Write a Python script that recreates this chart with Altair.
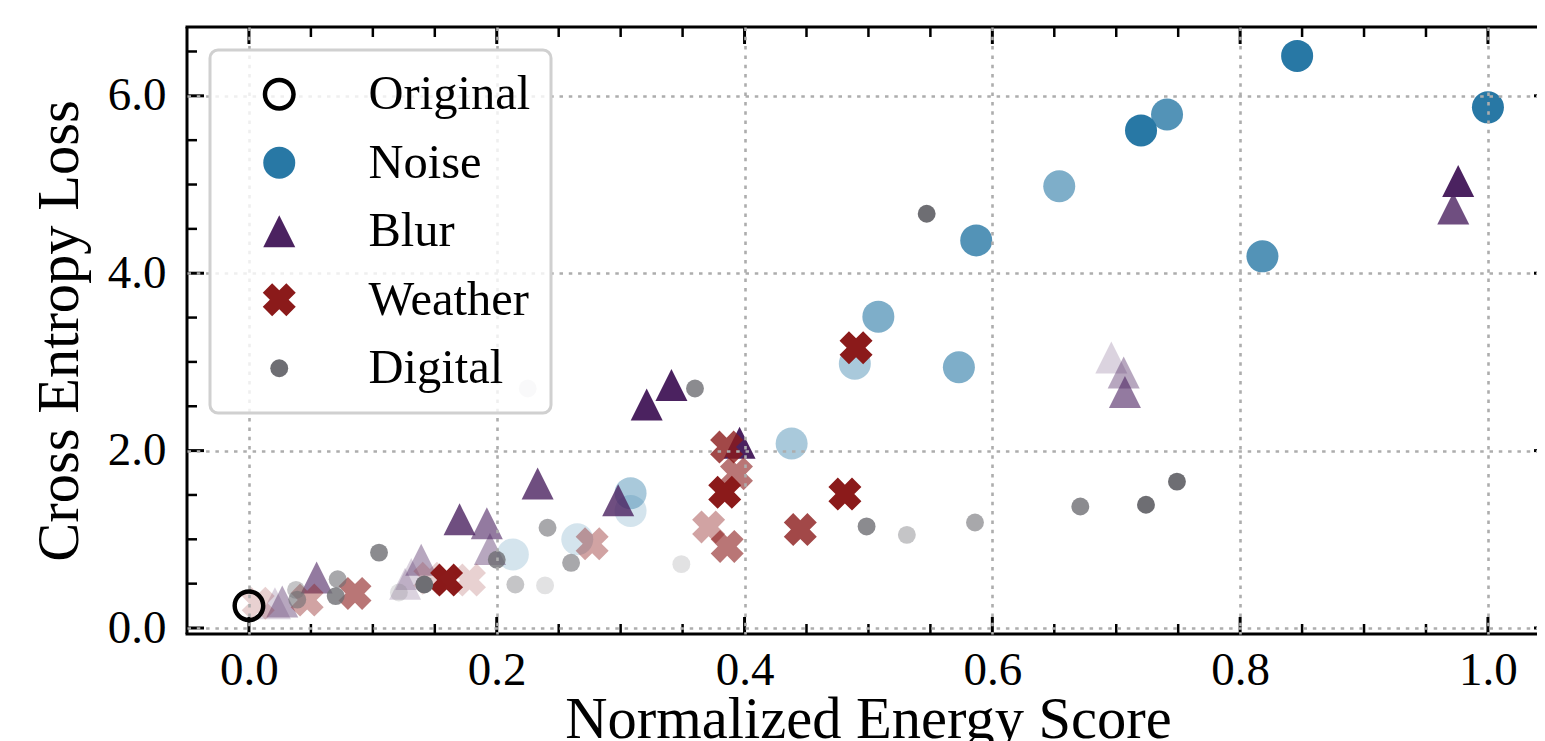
import altair as alt
import pandas as pd

# ---------------- data ----------------
groups = ["Original", "Noise", "Blur", "Weather", "Digital"]

original_x = [0.0]
original_y = [0.25]
original_sev = [5]

noise_x = [0.846, 1.000, 0.720, 0.741, 0.587, 0.818, 0.654, 0.508, 0.573, 0.489, 0.438, 0.308, 0.308, 0.265, 0.213]
noise_y = [6.45, 5.87, 5.61, 5.79, 4.37, 4.19, 4.98, 3.51, 2.94, 2.98, 2.08, 1.52, 1.32, 1.00, 0.83]
noise_sev = [5, 5, 5, 4, 4, 4, 3, 3, 3, 2, 2, 2, 1, 1, 1]

blur_x = [0.976, 0.972, 0.707, 0.706, 0.696, 0.341, 0.321, 0.396, 0.233, 0.298, 0.170, 0.192, 0.1945, 0.139, 0.131, 0.126, 0.0546, 0.0269, 0.021]
blur_y = [5.04, 4.73, 2.66, 2.88, 3.05, 2.74, 2.52, 2.09, 1.63, 1.44, 1.225, 1.18, 0.89, 0.77, 0.61, 0.50, 0.57, 0.30, 0.28]
blur_sev = [5, 4, 3, 2, 1, 5, 5, 5, 4, 4, 4, 3, 2, 2, 1, 1, 3, 2, 1]

weather_x = [0.490, 0.481, 0.384, 0.1595, 0.445, 0.3855, 0.3935, 0.386, 0.0856, 0.371, 0.277, 0.047, 0.178, 0.0075, 0.146]
weather_y = [3.16, 1.51, 1.53, 0.54, 1.11, 2.04, 1.74, 0.92, 0.39, 1.14, 0.95, 0.315, 0.54, 0.28, 0.56]
weather_sev = [5, 5, 5, 5, 4, 4, 3, 3, 3, 2, 2, 2, 1, 1, 1]

digital_x = [0.547, 0.749, 0.724, 0.671, 0.586, 0.4985, 0.531, 0.360, 0.225, 0.241, 0.260, 0.349, 0.215, 0.239, 0.105, 0.0716, 0.070, 0.038, 0.039, 0.1415, 0.121, 0.200]
digital_y = [4.67, 1.65, 1.39, 1.37, 1.19, 1.145, 1.05, 2.70, 2.70, 1.13, 0.735, 0.72, 0.49, 0.48, 0.85, 0.55, 0.36, 0.43, 0.32, 0.49, 0.40, 0.77]
digital_sev = [5, 5, 5, 4, 3, 4, 2, 4, 1, 3, 3, 1, 2, 1, 4, 3, 4, 2, 3, 5, 1, 4]

x_major = [0.0, 0.2, 0.4, 0.6, 0.8, 1.0]
x_minor = [0.05, 0.1, 0.15, 0.25, 0.3, 0.35, 0.45, 0.5, 0.55, 0.65, 0.7, 0.75, 0.85, 0.9, 0.95]
y_major = [0.0, 2.0, 4.0, 6.0]
y_minor = [0.5, 1.0, 1.5, 2.5, 3.0, 3.5, 4.5, 5.0, 5.5, 6.5]

# ---------------- table ----------------
rows = []
for g, xs_, ys_, ss_ in [
    ("Noise", noise_x, noise_y, noise_sev),
    ("Blur", blur_x, blur_y, blur_sev),
    ("Weather", weather_x, weather_y, weather_sev),
    ("Digital", digital_x, digital_y, digital_sev),
    ("Original", original_x, original_y, original_sev),
]:
    for a, b, c in zip(xs_, ys_, ss_):
        rows.append({"group": g, "x": a, "y": b, "sev": c})
df = pd.DataFrame(rows)
df["idx"] = range(len(df))

# ---------------- styling ----------------
W, H = 1350, 607
FONT = "Liberation Serif"

ring = ("M1,0A1,1,0,1,1,-1,0A1,1,0,1,1,1,0Z"
        "M0.73,0A0.73,0.73,0,1,0,-0.73,0A0.73,0.73,0,1,0,0.73,0Z")
tri = "M0,-1L1,1L-1,1Z"
xmark = ("M-0.43,-1L0,-0.57L0.43,-1L1,-0.43L0.57,0L1,0.43L0.43,1L0,0.57"
         "L-0.43,1L-1,0.43L-0.57,0L-1,-0.43Z")

colors = ["#000000", "#2878A5", "#4B2260", "#8B1A1A", "#6E6E73"]
shapes = [ring, "circle", tri, xmark, "circle"]
sizes = [1089, 1024, 1024, 1089, 320]

xscale = alt.Scale(domain=[-0.05, 1.0396], nice=False, zero=False)
yscale = alt.Scale(domain=[-0.0676, 6.776], nice=False, zero=False)

xaxis = alt.Axis(
    values=x_major, format=".1f", title="Normalized Energy Score",
    grid=True, ticks=False, tickSize=0, domain=False, zindex=1,
    labelPadding=13, labelFlush=False, labelOverlap=False,
    titleX=681, titleAlign="center", titleAnchor="start",
    titleY=103, titleBaseline="alphabetic")
yaxis = alt.Axis(
    values=y_major, format=".1f", title="Cross Entropy Loss",
    grid=True, ticks=False, tickSize=0, domain=False, zindex=1,
    labelPadding=21, labelFlush=False, labelOverlap=False,
    titleX=-110, titleBaseline="alphabetic")

leg = dict(title=None, orient="none", legendX=23, legendY=23, zindex=2)

points = alt.Chart(df).mark_point(filled=True, strokeWidth=0).encode(
    x=alt.X("x:Q", scale=xscale, axis=xaxis),
    y=alt.Y("y:Q", scale=yscale, axis=yaxis),
    color=alt.Color("group:N", scale=alt.Scale(domain=groups, range=colors), legend=alt.Legend(**leg)),
    shape=alt.Shape("group:N", scale=alt.Scale(domain=groups, range=shapes), legend=alt.Legend(**leg)),
    size=alt.Size("group:N", scale=alt.Scale(type="ordinal", domain=groups, range=sizes), legend=alt.Legend(**leg)),
    opacity=alt.Opacity("sev:Q", scale=alt.Scale(domain=[0, 5], range=[0, 1]), legend=None),
    order=alt.Order("idx:Q"),
)


def xticks(vals, length, width):
    d = pd.DataFrame({"x": vals})
    base = alt.Chart(d).mark_rule(color="black", strokeWidth=width)
    xe = alt.X("x:Q", scale=xscale, axis=xaxis)
    return [
        base.encode(x=xe, y=alt.value(H), y2=alt.value(H - length)),
        base.encode(x=xe, y=alt.value(0), y2=alt.value(length)),
    ]


def yticks(vals, length, width, right=True):
    d = pd.DataFrame({"y": vals})
    base = alt.Chart(d).mark_rule(color="black", strokeWidth=width)
    ye = alt.Y("y:Q", scale=yscale, axis=yaxis)
    out = [base.encode(y=ye, x=alt.value(0), x2=alt.value(length))]
    if right:
        # the right spine sits just outside the visible picture: only the tips of major ticks show
        out.append(base.encode(y=ye, x=alt.value(W - 3), x2=alt.value(W)))
    return out


spine_left = alt.Chart(pd.DataFrame({"s": [0]})).mark_rule(color="black", strokeWidth=3).encode(
    x=alt.value(0), y=alt.value(0), y2=alt.value(H))
spine_bottom = alt.Chart(pd.DataFrame({"s": [0]})).mark_rule(color="black", strokeWidth=3).encode(
    x=alt.value(-1.5), x2=alt.value(W), y=alt.value(H))
spine_top = alt.Chart(pd.DataFrame({"s": [0]})).mark_rule(color="black", strokeWidth=3).encode(
    x=alt.value(-1.5), x2=alt.value(W), y=alt.value(0))

layers = ([points]
          + xticks(x_major, 17, 3) + xticks(x_minor, 10, 2.5)
          + yticks(y_major, 17, 3) + yticks(y_minor, 10, 2.5, right=False)
          + [spine_left, spine_bottom, spine_top])

chart = alt.layer(*layers).properties(
    width=W, height=H,
    padding={"left": 179, "top": 19, "right": 0, "bottom": 110},
    autosize=alt.AutoSizeParams(type="none"),
).configure(
    font=FONT,
).configure_view(
    strokeWidth=0,
).configure_axis(
    labelFont=FONT, labelFontSize=47, labelColor="black",
    titleFont=FONT, titleFontSize=58.5, titleFontWeight="normal", titleColor="black",
    gridColor="#adadad", gridDash=[3.5, 5.8], gridWidth=2.6, gridOpacity=1,
).configure_legend(
    labelFont=FONT, labelFontSize=48.5, labelColor="black", labelLimit=600,
    padding=20, rowPadding=19.5, symbolOffset=25, labelOffset=65,
    cornerRadius=8, strokeColor="#d0d0d0", strokeWidth=3,
    fillColor="rgba(255,255,255,0.8)", symbolOpacity=1, symbolStrokeWidth=0,
)

chart.save("out.html", embed_options={"renderer": "svg", "actions": False})
